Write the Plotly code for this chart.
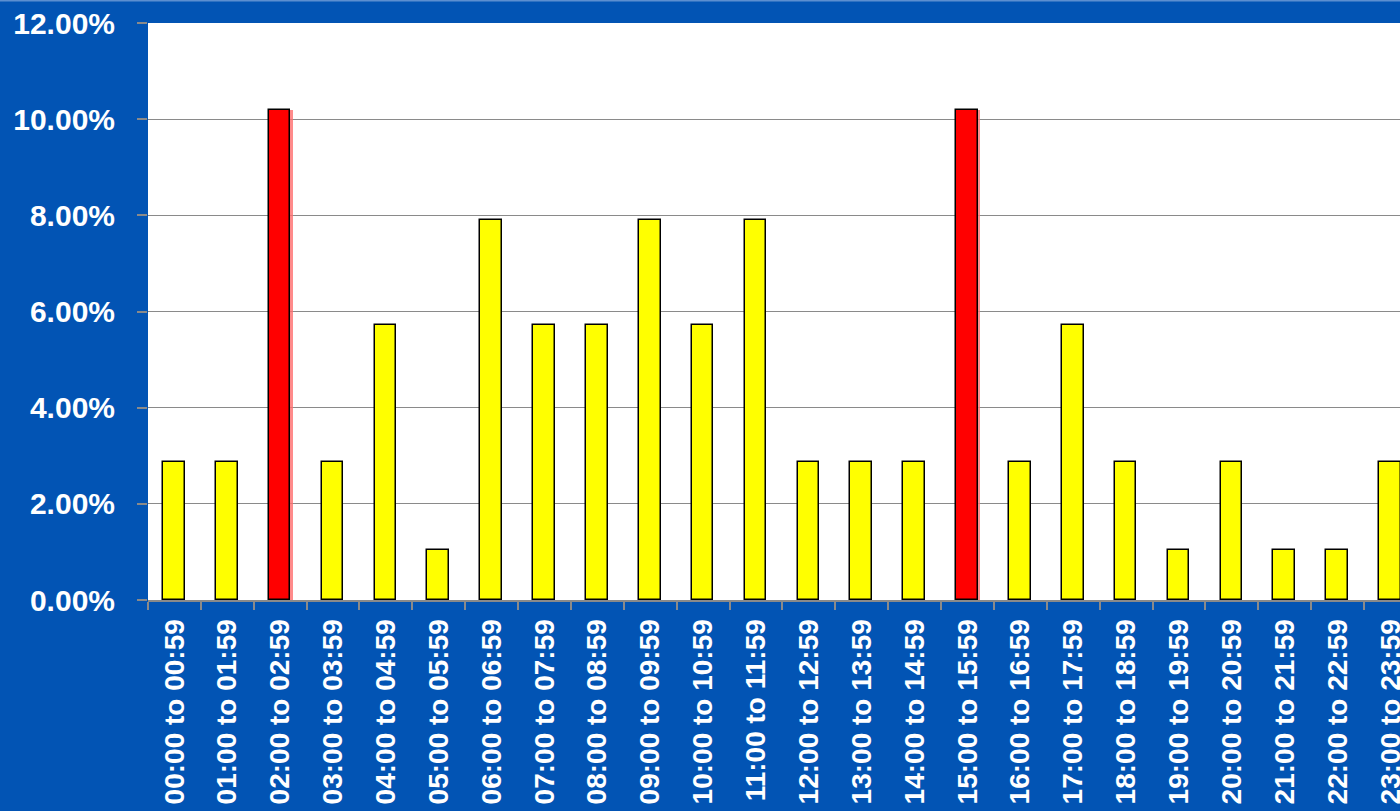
import plotly.graph_objects as go

categories = [f"{h:02d}:00 to {h:02d}:59" for h in range(24)]
values = [2.86, 2.86, 10.19, 2.86, 5.71, 1.04, 7.90, 5.71, 5.71, 7.90, 5.71, 7.90,
          2.86, 2.86, 2.86, 10.19, 2.86, 5.71, 2.86, 1.04, 2.86, 1.04, 1.04, 2.86]
highlight = [2, 15]
y_ticks = [0, 2, 4, 6, 8, 10, 12]
y_ticktext = [f"{v:.2f}%" for v in y_ticks]

colors = ["#FF0000" if i in highlight else "#FFFF00" for i in range(len(values))]
shadow_colors = ["rgba(255,110,110,0.8)" if i in highlight else "rgba(0,0,0,0)" for i in range(len(values))]

BLUE = "#0254B4"
fig = go.Figure()
fig.add_trace(go.Bar(x=categories, y=values, width=0.41, offset=-0.17,
                     marker=dict(color=shadow_colors, line=dict(width=0)),
                     hoverinfo="skip", showlegend=False))
fig.add_trace(go.Bar(x=categories, y=values, width=0.41, offset=-0.215,
                     marker=dict(color=colors, line=dict(color="black", width=1.5)),
                     showlegend=False))

fig.update_layout(
    width=1400, height=811,
    margin=dict(l=148, r=0, t=23, b=211, pad=0, autoexpand=False),
    paper_bgcolor=BLUE, plot_bgcolor="white",
    barmode="overlay", bargap=0,
    font=dict(family="Liberation Sans, Arial, sans-serif", color="white", size=29, weight="bold"),
    xaxis=dict(type="category", range=[-0.5, 23.18], tickson="boundaries", automargin=False,
               ticks="outside", ticklen=8, tickwidth=2, tickcolor="#8A8A8A",
               tickangle=-90, ticklabelstandoff=6,
               showline=True, linecolor="#8A8A8A", linewidth=2,
               showgrid=False, zeroline=False,
               tickfont=dict(size=28, color="white", weight="bold")),
    yaxis=dict(range=[0, 12], tickvals=y_ticks, ticktext=y_ticktext, automargin=False,
               ticks="outside", ticklen=10, tickwidth=2, tickcolor="#8A8A8A",
               ticklabelstandoff=16,
               showgrid=True, gridcolor="#8A8A8A", gridwidth=1,
               showline=False, zeroline=False,
               tickfont=dict(size=30, color="white", weight="bold")),
)
fig.add_shape(type="line", xref="paper", yref="paper", x0=-1, x1=1.2, y0=1.039, y1=1.039,
              line=dict(color="#5C8FD0", width=2))
fig.write_html("out.html", config={"displayModeBar": False},
               post_script="document.body.style.margin='0';document.body.style.overflow='hidden';")
